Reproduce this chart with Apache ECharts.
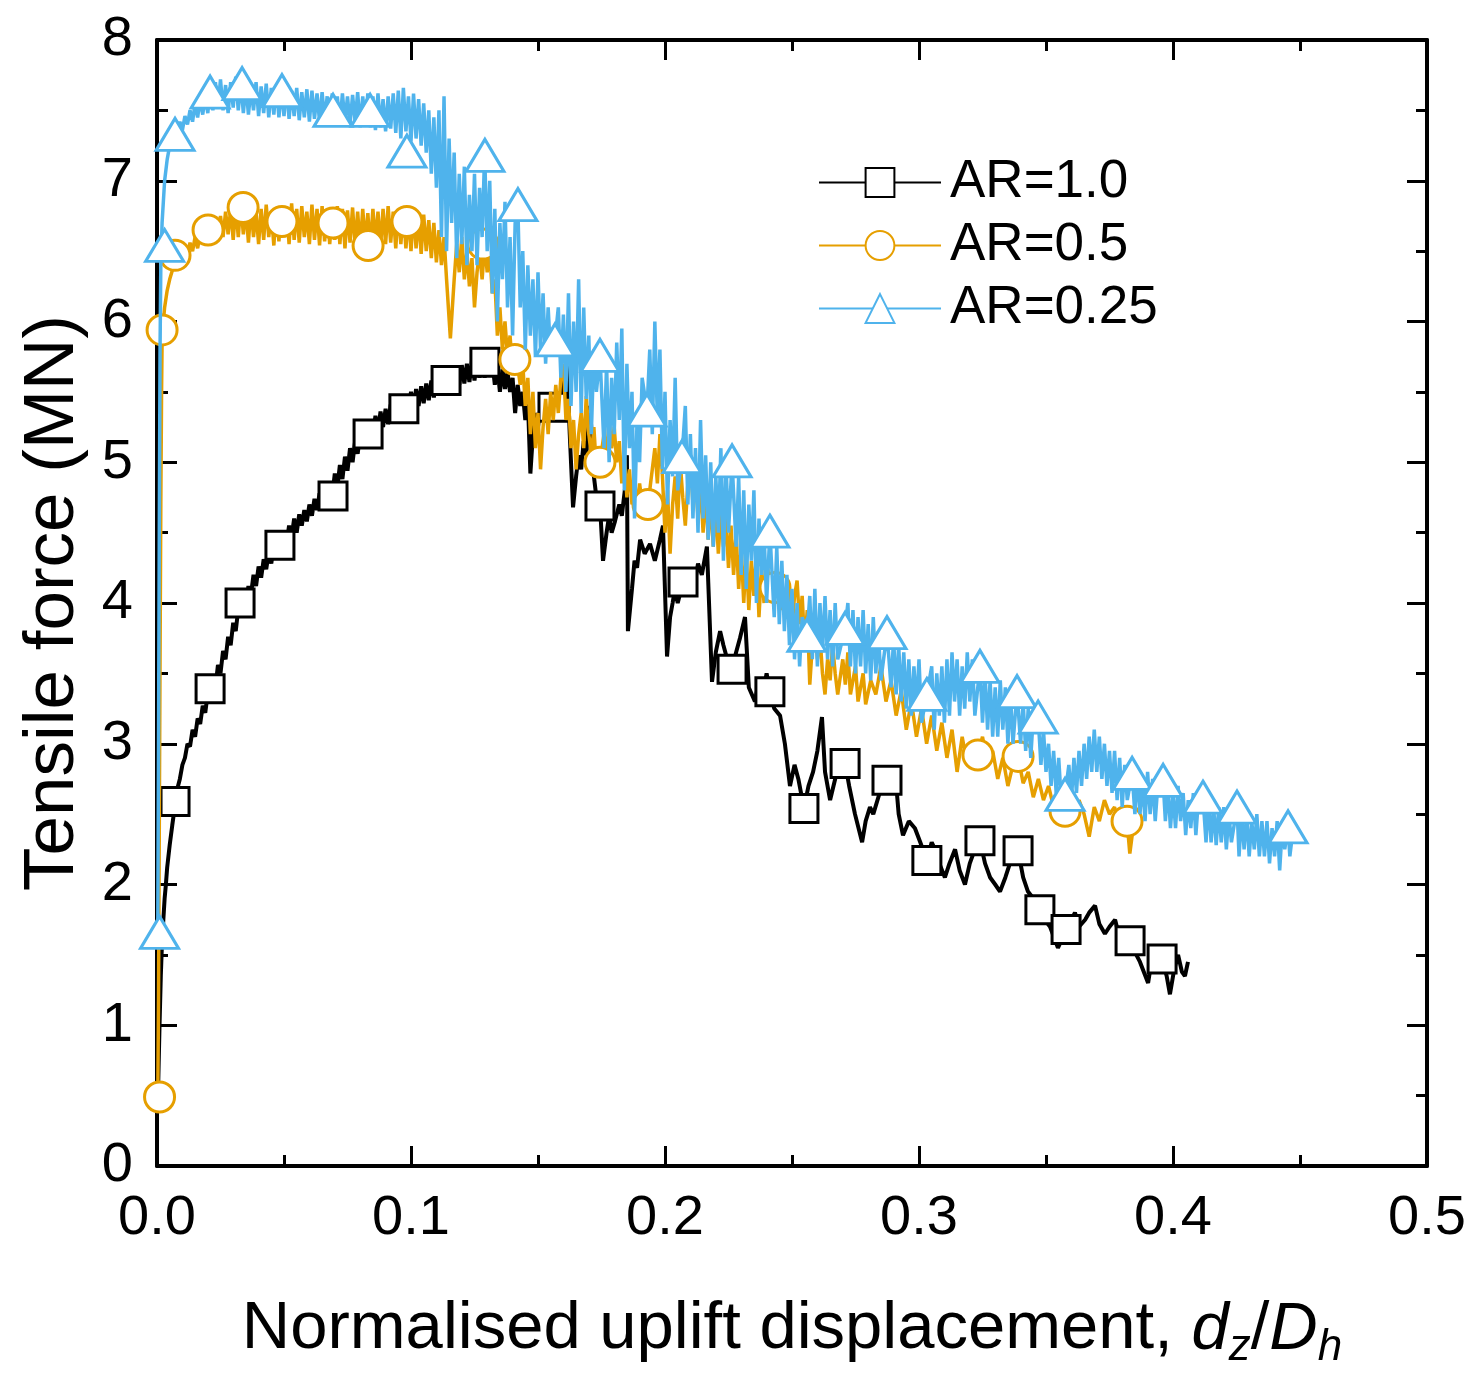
<!DOCTYPE html>
<html><head><meta charset="utf-8">
<script src="https://cdn.jsdelivr.net/npm/echarts@6/dist/echarts.min.js"></script>
<style>html,body{margin:0;padding:0;background:#fff}#c{width:1476px;height:1375px}</style>
</head><body><div id="c"></div>
<script>
const seriesNames = ['AR=1.0', 'AR=0.5', 'AR=0.25'];
const xTickLabels = ['0.0', '0.1', '0.2', '0.3', '0.4', '0.5'];
const yTickLabels = ['0', '1', '2', '3', '4', '5', '6', '7', '8'];

// AR=1.0 measured curve (dz/Dh, MN)
const ar10Line = [[0.0005,0.6],[0.001,1.0],[0.0015,1.35],[0.002,1.6],[0.0025,1.75],[0.003,1.9],[0.0035,2.0],[0.004,2.12],[0.005,2.28],[0.006,2.42],[0.007,2.55],[0.008,2.68],[0.009,2.75],[0.010,2.85],[0.011,2.9],[0.012,3.0],[0.013,2.98],[0.014,3.1],[0.015,3.05],[0.016,3.18],[0.017,3.14],[0.018,3.27],[0.019,3.22],[0.020,3.36],[0.021,3.3],[0.022,3.46],[0.023,3.4],[0.024,3.56],[0.025,3.5],[0.026,3.66],[0.027,3.6],[0.028,3.76],[0.029,3.7],[0.030,3.86],[0.031,3.8],[0.032,3.96],[0.033,3.92],[0.034,4.05],[0.035,3.98],[0.036,4.12],[0.037,4.06],[0.038,4.2],[0.039,4.12],[0.040,4.26],[0.041,4.18],[0.042,4.31],[0.043,4.24],[0.044,4.36],[0.045,4.28],[0.046,4.41],[0.047,4.33],[0.048,4.46],[0.049,4.38],[0.050,4.5],[0.051,4.42],[0.052,4.55],[0.053,4.47],[0.054,4.6],[0.055,4.5],[0.056,4.63],[0.057,4.55],[0.058,4.66],[0.059,4.58],[0.060,4.7],[0.061,4.62],[0.062,4.74],[0.063,4.66],[0.064,4.78],[0.065,4.69],[0.066,4.81],[0.067,4.72],[0.068,4.86],[0.069,4.76],[0.070,4.92],[0.071,4.82],[0.072,4.98],[0.073,4.88],[0.074,5.04],[0.075,4.94],[0.076,5.1],[0.077,5.0],[0.078,5.15],[0.079,5.06],[0.080,5.2],[0.081,5.1],[0.082,5.25],[0.083,5.15],[0.084,5.29],[0.085,5.19],[0.086,5.33],[0.087,5.22],[0.088,5.36],[0.089,5.25],[0.090,5.38],[0.091,5.27],[0.092,5.41],[0.093,5.3],[0.094,5.44],[0.095,5.32],[0.096,5.46],[0.097,5.34],[0.098,5.48],[0.099,5.36],[0.100,5.5],[0.101,5.38],[0.102,5.52],[0.103,5.4],[0.104,5.54],[0.105,5.42],[0.106,5.56],[0.107,5.44],[0.108,5.58],[0.109,5.46],[0.110,5.6],[0.111,5.48],[0.112,5.62],[0.113,5.5],[0.114,5.64],[0.115,5.52],[0.116,5.66],[0.117,5.53],[0.118,5.67],[0.119,5.55],[0.120,5.69],[0.121,5.56],[0.122,5.7],[0.123,5.57],[0.124,5.72],[0.125,5.58],[0.126,5.73],[0.127,5.6],[0.128,5.74],[0.129,5.6],[0.130,5.75],[0.131,5.62],[0.132,5.72],[0.133,5.55],[0.134,5.68],[0.135,5.5],
[0.136,5.66],[0.137,5.52],[0.138,5.64],[0.139,5.5],[0.140,5.6],[0.141,5.35],[0.142,5.55],[0.143,5.4],[0.144,5.5],[0.145,5.3],[0.146,5.45],[0.147,4.92],[0.148,5.2],[0.149,5.35],[0.150,5.25],[0.151,5.4],[0.152,5.3],[0.1535,5.45],[0.155,5.32],[0.156,5.42],[0.157,5.3],[0.158,5.48],[0.159,5.4],[0.160,5.58],[0.1614,5.72],[0.1625,5.2],[0.1638,4.68],[0.165,4.9],[0.166,5.05],[0.167,4.95],[0.168,5.15],[0.169,5.05],[0.1705,5.4],[0.172,4.9],[0.173,4.75],[0.1744,4.7],[0.1756,4.3],[0.177,4.5],[0.178,4.62],[0.179,4.5],[0.1803,4.58],[0.182,4.7],[0.183,4.62],[0.1845,4.85],[0.185,5.05],[0.1854,3.8],[0.187,4.1],[0.188,4.3],[0.189,4.25],[0.1902,4.45],[0.192,4.35],[0.1941,4.42],[0.196,4.3],[0.198,4.45],[0.1992,4.55],[0.2008,3.62],[0.202,3.9],[0.203,4.0],[0.2039,4.1],[0.205,4.0],[0.2071,4.15],[0.209,4.05],[0.2105,4.2],[0.2118,4.15],[0.213,4.28],[0.2145,4.2],[0.2165,4.4],[0.2185,3.44],[0.22,3.65],[0.2217,3.8],[0.223,3.7],[0.2245,3.6],[0.2264,3.53],[0.228,3.65],[0.2295,3.75],[0.2315,3.9],[0.233,3.4],[0.2354,3.3],[0.237,3.45],[0.2385,3.35],[0.24,3.5],[0.2413,3.37],[0.243,3.25],[0.2453,3.2],[0.2472,3.0],[0.2492,2.7],[0.251,2.85],[0.2525,2.75],[0.2547,2.54],[0.2565,2.7],[0.2583,2.8],[0.26,2.95],[0.2618,3.19],[0.263,2.8],[0.265,2.6],[0.267,2.75],[0.2685,2.85],[0.2709,2.86],[0.2725,2.7],[0.2748,2.5],[0.2776,2.3],[0.279,2.45],[0.2807,2.55],[0.282,2.5],[0.2845,2.65],[0.2874,2.74],[0.289,2.65],[0.2906,2.8],[0.292,2.5],[0.2937,2.35],[0.296,2.45],[0.2984,2.4],[0.3005,2.3],[0.3031,2.17],[0.305,2.3],[0.3063,2.25],[0.308,2.15],[0.3102,2.05],[0.312,2.15],[0.3142,2.25],[0.316,2.1],[0.3181,2.0],[0.32,2.15],[0.322,2.25],[0.324,2.31],[0.326,2.15],[0.328,2.05],[0.33,2.0],[0.3319,1.95],[0.334,2.05],[0.3358,2.15],[0.339,2.24],[0.341,2.05],[0.3429,1.95],[0.345,1.9],[0.3476,1.82],[0.3495,1.75],[0.3516,1.7],[0.3547,1.55],[0.3565,1.62],[0.3579,1.68],[0.36,1.75],[0.3614,1.8],[0.363,1.7],[0.3654,1.75],[0.367,1.8],[0.3693,1.85],[0.371,1.72],[0.3732,1.65],[0.375,1.7],[0.3772,1.75],[0.379,1.62],[0.381,1.58],[0.3831,1.6],[0.385,1.52],[0.387,1.45],[0.3902,1.3],[0.3915,1.45],[0.3929,1.55],[0.3957,1.47],[0.3975,1.35],[0.3988,1.22],[0.4005,1.4],[0.402,1.5],[0.4035,1.38],[0.4047,1.35],[0.4059,1.45]];
const ar10Marks = [[0.0071,2.59],[0.0209,3.39],[0.0327,4.00],[0.0484,4.41],[0.0693,4.76],[0.0831,5.20],[0.0972,5.38],[0.1138,5.58],[0.1291,5.71],[0.1559,5.39],[0.1744,4.69],[0.2071,4.15],[0.2264,3.53],[0.2413,3.37],[0.2547,2.54],[0.2709,2.86],[0.2874,2.74],[0.3031,2.17],[0.3240,2.31],[0.3390,2.24],[0.3476,1.82],[0.3579,1.68],[0.3831,1.60],[0.3957,1.47]];

// AR=0.5 measured curve
const ar05Line = [[0.0003,0.45],[0.0006,1.2],[0.0009,2.4],[0.0012,3.6],[0.0015,4.7],[0.0018,5.5],[0.002,5.85],[0.0025,6.0],[0.003,6.1],[0.004,6.22],[0.005,6.3],[0.006,6.36],[0.007,6.42],[0.008,6.38],[0.009,6.48],[0.010,6.44],[0.011,6.52],[0.012,6.47],[0.013,6.56],[0.014,6.5],[0.015,6.6],[0.016,6.52],[0.017,6.62],[0.018,6.55],[0.019,6.66],[0.020,6.57],
[0.021,6.7],[0.022,6.58],[0.023,6.72],[0.024,6.6],[0.025,6.75],[0.026,6.6],[0.027,6.78],[0.028,6.62],[0.029,6.8],[0.030,6.58],[0.031,6.82],[0.032,6.6],[0.033,6.84],[0.034,6.62],[0.035,6.8],[0.036,6.56],[0.037,6.82],[0.038,6.6],[0.039,6.78],[0.040,6.55],[0.041,6.8],[0.042,6.58],[0.043,6.83],[0.044,6.6],[0.045,6.78],[0.046,6.54],[0.047,6.8],[0.048,6.57],[0.049,6.82],[0.050,6.6],[0.051,6.79],[0.052,6.55],[0.053,6.84],[0.054,6.58],[0.055,6.8],[0.056,6.56],[0.057,6.82],[0.058,6.6],[0.059,6.78],[0.060,6.55],[0.061,6.83],[0.062,6.58],[0.063,6.8],[0.064,6.54],[0.065,6.82],[0.066,6.57],[0.067,6.8],[0.068,6.55],[0.069,6.78],[0.070,6.58],[0.071,6.82],[0.072,6.55],[0.073,6.8],[0.074,6.52],[0.075,6.79],[0.076,6.56],[0.077,6.81],[0.078,6.54],[0.079,6.78],[0.080,6.52],[0.081,6.8],[0.082,6.55],[0.083,6.77],[0.084,6.52],[0.085,6.8],[0.086,6.56],[0.087,6.78],[0.088,6.53],[0.089,6.8],[0.090,6.55],[0.091,6.82],[0.092,6.56],[0.093,6.78],[0.094,6.52],[0.095,6.8],[0.096,6.55],[0.097,6.78],[0.098,6.52],[0.099,6.76],[0.100,6.5],[0.101,6.78],[0.102,6.52],[0.103,6.75],[0.104,6.48],[0.105,6.76],[0.106,6.5],[0.107,6.72],[0.108,6.45],[0.109,6.7],[0.110,6.42],
[0.111,6.65],[0.112,6.4],[0.113,6.6],[0.114,6.3],[0.1155,5.88],[0.117,6.3],[0.118,6.55],[0.119,6.35],[0.120,6.6],[0.121,6.3],[0.122,6.5],[0.123,6.25],[0.124,6.45],[0.125,6.1],[0.126,6.35],[0.127,6.5],[0.128,6.3],[0.129,6.55],[0.130,6.35],[0.131,6.5],[0.132,6.2],[0.133,6.3],[0.134,5.9],[0.135,6.1],[0.136,5.8],[0.137,6.0],[0.138,5.75],[0.139,5.9],[0.140,5.65],[0.1415,5.75],[0.143,5.55],[0.144,5.7],[0.145,5.4],[0.146,5.6],[0.147,5.2],[0.148,5.5],[0.149,5.1],[0.150,5.35],[0.151,4.95],[0.152,5.25],[0.153,5.45],[0.154,5.2],[0.155,5.5],[0.156,5.3],[0.157,5.55],[0.158,5.35],[0.159,5.6],[0.160,5.7],[0.161,5.3],[0.162,5.45],[0.163,5.1],[0.164,5.3],[0.165,4.95],[0.166,5.2],[0.167,5.35],[0.168,5.1],[0.169,5.47],[0.170,5.2],[0.171,5.05],[0.172,5.25],[0.173,4.95],[0.1744,5.0],[0.176,5.2],[0.177,5.05],[0.178,5.3],[0.179,5.1],[0.180,5.25],[0.181,5.0],[0.182,5.15],[0.183,4.85],[0.184,5.05],[0.185,4.75],[0.186,4.95],[0.187,4.7],[0.188,4.9],[0.189,4.65],[0.190,4.85],[0.191,4.7],[0.1933,4.7],[0.195,4.95],[0.196,5.1],[0.197,4.85],[0.198,5.2],[0.199,4.9],[0.200,4.5],[0.201,4.8],[0.202,4.35],[0.203,4.7],[0.204,4.9],[0.205,4.6],[0.206,5.0],[0.207,4.75],[0.208,4.55],[0.209,4.85],[0.210,5.05],[0.211,4.7],[0.212,4.95],[0.213,4.6],[0.214,4.85],[0.215,4.5],[0.216,4.8],[0.217,4.45],[0.218,4.75],[0.219,4.4],[0.220,4.7],[0.221,4.35],[0.222,4.65],[0.223,4.4],[0.224,4.6],[0.225,4.25],[0.226,4.55],[0.227,4.2],[0.228,4.5],[0.229,4.1],[0.230,4.4],[0.231,4.0],[0.232,4.35],[0.233,3.95],[0.234,4.3],[0.235,4.05],[0.236,4.35],[0.237,3.9],[0.238,4.25],[0.239,4.0],[0.240,4.3],[0.2415,4.1],[0.2433,4.11],[0.245,4.2],[0.246,3.95],[0.247,4.15],[0.248,3.9],[0.249,4.1],[0.250,3.82],[0.251,4.05],[0.252,4.16],[0.253,3.85],[0.254,4.05],[0.255,3.7],[0.256,3.95],[0.257,3.42],[0.258,3.7],[0.259,3.85],[0.260,3.6],[0.261,3.77],[0.262,3.5],[0.263,3.35],[0.264,3.6],[0.265,3.45],[0.266,3.7],[0.267,3.5],[0.268,3.35],[0.270,3.6],[0.271,3.42],[0.272,3.65],[0.273,3.35],[0.275,3.55],[0.276,3.3],[0.278,3.5],[0.279,3.28],[0.281,3.45],[0.283,3.35],[0.285,3.55],[0.287,3.3],[0.289,3.45],[0.291,3.2],[0.293,3.38],[0.295,3.1],[0.297,3.3],[0.299,3.05],[0.301,3.25],[0.303,3.0],[0.305,3.2],[0.307,2.95],[0.309,3.15],[0.311,2.9],[0.313,3.1],[0.315,2.8],[0.317,3.05],[0.319,2.85],[0.321,3.0],[0.3232,2.92],[0.325,3.05],[0.327,2.85],[0.329,2.95],[0.331,2.75],[0.333,2.9],[0.335,2.7],[0.337,2.85],[0.339,2.91],[0.341,2.72],[0.343,2.8],[0.345,2.62],[0.347,2.75],[0.349,2.6],[0.351,2.7],[0.353,2.55],[0.355,2.65],[0.3575,2.52],[0.359,2.6],[0.361,2.45],[0.363,2.6],[0.365,2.5],[0.367,2.34],[0.369,2.55],[0.371,2.45],[0.373,2.6],[0.375,2.5],[0.377,2.55],[0.379,2.4],[0.381,2.5],[0.3819,2.45],[0.383,2.22],[0.385,2.5],[0.387,2.55],[0.389,2.6]];
const ar05Marks = [[0.001,0.49],[0.002,5.94],[0.0071,6.47],[0.0201,6.65],[0.0339,6.81],[0.0492,6.71],[0.0693,6.70],[0.0831,6.54],[0.0984,6.71],[0.1283,6.55],[0.1409,5.73],[0.1744,5.00],[0.1933,4.70],[0.2433,4.11],[0.3232,2.92],[0.3390,2.91],[0.3575,2.52],[0.3819,2.45]];

// AR=0.25 measured curve
const ar025Line = [[0.0003,1.6],[0.0006,3.0],[0.0009,4.5],[0.0012,5.8],[0.0015,6.4],[0.002,6.7],[0.003,7.0],[0.004,7.15],[0.005,7.25],[0.006,7.3],[0.007,7.35],[0.008,7.3],[0.009,7.42],[0.010,7.36],[0.011,7.46],[0.012,7.4],[0.013,7.5],[0.014,7.42],[0.015,7.55],[0.016,7.45],[0.017,7.58],[0.018,7.47],[0.019,7.6],[0.020,7.48],
[0.021,7.68],[0.022,7.5],[0.023,7.7],[0.024,7.52],[0.025,7.72],[0.026,7.5],[0.027,7.68],[0.028,7.48],[0.029,7.7],[0.030,7.52],[0.031,7.74],[0.032,7.5],[0.033,7.7],[0.034,7.48],[0.035,7.68],[0.036,7.47],[0.037,7.66],[0.038,7.5],[0.039,7.7],[0.040,7.46],[0.041,7.67],[0.042,7.48],[0.043,7.69],[0.044,7.45],[0.045,7.66],[0.046,7.47],[0.047,7.68],[0.048,7.45],[0.049,7.65],[0.050,7.46],[0.051,7.67],[0.052,7.44],[0.053,7.64],[0.054,7.46],[0.055,7.66],[0.056,7.43],[0.057,7.63],[0.058,7.45],[0.059,7.65],[0.060,7.42],[0.061,7.64],[0.062,7.44],[0.063,7.62],[0.064,7.42],[0.065,7.63],[0.066,7.43],[0.067,7.6],[0.068,7.41],[0.069,7.62],[0.070,7.42],[0.071,7.6],[0.072,7.4],[0.073,7.62],[0.074,7.42],[0.075,7.6],[0.076,7.4],[0.077,7.61],[0.078,7.42],[0.079,7.63],[0.080,7.38],[0.081,7.6],[0.082,7.4],[0.083,7.62],[0.084,7.38],[0.085,7.6],[0.086,7.36],[0.087,7.62],[0.088,7.38],[0.089,7.58],[0.090,7.35],[0.091,7.6],[0.092,7.37],[0.093,7.62],[0.094,7.34],[0.095,7.64],[0.096,7.3],[0.097,7.66],[0.098,7.35],[0.099,7.6],[0.100,7.28],[0.101,7.62],[0.102,7.3],[0.103,7.58],[0.104,7.25],[0.105,7.55],[0.106,7.2],[0.107,7.5],[0.108,7.05],[0.109,7.45],[0.110,6.95],[0.111,7.5],[0.112,6.6],[0.113,7.6],[0.114,6.5],[0.115,7.3],[0.116,6.7],[0.117,7.2],[0.118,6.45],[0.119,7.05],[0.120,6.55],[0.121,7.1],[0.122,6.4],[0.123,6.9],[0.124,6.5],[0.125,7.05],[0.126,6.4],[0.127,6.95],[0.128,6.6],[0.129,7.2],[0.130,6.5],[0.131,7.0],[0.132,6.2],[0.133,6.8],[0.134,6.0],[0.135,6.7],[0.136,6.3],[0.137,6.85],[0.138,6.1],[0.139,6.6],[0.140,5.9],[0.141,6.7],[0.1421,6.8],[0.143,6.1],[0.144,6.5],[0.145,5.8],[0.146,6.4],[0.147,5.9],[0.148,6.3],[0.149,5.75],[0.150,6.35],[0.151,5.8],[0.152,6.2],[0.153,5.7],[0.154,6.1],[0.155,5.75],[0.1567,5.87],[0.158,6.1],[0.159,5.6],[0.160,6.05],[0.161,5.5],[0.162,6.2],[0.163,5.4],[0.164,6.0],[0.165,5.5],[0.166,6.3],[0.167,5.35],[0.168,6.1],[0.169,5.45],[0.170,5.9],[0.171,5.2],[0.172,5.8],[0.173,5.5],[0.1744,5.76],[0.176,5.1],[0.177,5.7],[0.178,5.0],[0.179,5.6],[0.180,5.2],[0.181,5.85],[0.182,5.3],[0.183,5.95],[0.184,4.8],[0.185,5.7],[0.186,5.1],[0.187,5.5],[0.188,4.6],[0.189,5.3],[0.190,5.0],[0.191,5.6],[0.1929,5.37],[0.194,5.8],[0.195,5.2],[0.196,6.0],[0.197,5.3],[0.198,5.8],[0.199,4.95],[0.200,5.5],[0.201,4.7],[0.202,5.3],[0.203,4.9],[0.204,5.6],[0.205,4.8],[0.2067,5.04],[0.208,5.4],[0.209,4.7],[0.210,5.2],[0.211,4.6],[0.212,5.1],[0.213,4.5],[0.214,5.3],[0.215,4.6],[0.216,5.05],[0.217,4.45],[0.218,5.0],[0.219,4.4],[0.220,4.9],[0.221,4.5],[0.222,5.1],[0.223,4.3],[0.224,5.0],[0.225,4.5],[0.2264,5.01],[0.228,4.4],[0.229,4.9],[0.230,4.2],[0.231,4.8],[0.232,4.1],[0.233,4.7],[0.234,4.3],[0.235,4.8],[0.236,4.0],[0.237,4.6],[0.238,4.2],[0.239,4.5],[0.240,4.0],[0.2413,4.51],[0.243,3.9],[0.244,4.4],[0.245,3.85],[0.246,4.3],[0.247,3.8],[0.248,4.2],[0.249,3.7],[0.250,4.1],[0.251,3.6],[0.252,4.0],[0.253,3.55],[0.254,3.9],[0.2559,3.77],[0.257,4.05],[0.258,3.6],[0.259,4.1],[0.260,3.55],[0.261,4.0],[0.262,3.65],[0.263,4.05],[0.264,3.6],[0.265,3.95],[0.266,3.55],[0.267,4.0],[0.268,3.6],[0.2709,3.82],[0.272,4.0],[0.273,3.55],[0.274,3.95],[0.275,3.5],[0.276,3.9],[0.277,3.55],[0.278,3.95],[0.279,3.5],[0.280,3.85],[0.281,3.45],[0.282,3.9],[0.283,3.5],[0.284,3.8],[0.285,3.45],[0.2874,3.79],[0.289,3.4],[0.290,3.75],[0.291,3.35],[0.292,3.7],[0.293,3.3],[0.294,3.65],[0.295,3.25],[0.296,3.6],[0.297,3.2],[0.298,3.55],[0.299,3.25],[0.300,3.6],[0.301,3.15],[0.3031,3.35],[0.305,3.55],[0.306,3.1],[0.307,3.5],[0.308,3.2],[0.309,3.55],[0.310,3.15],[0.311,3.6],[0.312,3.2],[0.313,3.65],[0.314,3.3],[0.315,3.6],[0.316,3.2],[0.317,3.55],[0.318,3.25],[0.319,3.65],[0.320,3.3],[0.321,3.6],[0.322,3.2],[0.324,3.55],[0.325,3.15],[0.326,3.5],[0.327,3.1],[0.328,3.45],[0.329,3.05],[0.330,3.4],[0.331,3.05],[0.332,3.45],[0.333,3.1],[0.334,3.4],[0.335,3.0],[0.336,3.35],[0.337,3.0],[0.3386,3.37],[0.340,3.0],[0.341,3.3],[0.342,2.95],[0.343,3.25],[0.344,2.9],[0.345,3.2],[0.3469,3.19],[0.348,2.85],[0.349,3.1],[0.350,2.8],[0.351,3.0],[0.352,2.7],[0.353,2.95],[0.354,2.65],[0.355,2.9],[0.356,2.6],[0.3575,2.64],[0.359,2.85],[0.360,2.6],[0.361,2.9],[0.362,2.65],[0.363,2.95],[0.364,2.7],[0.365,3.0],[0.366,2.75],[0.367,3.05],[0.368,2.8],[0.369,3.1],[0.370,2.8],[0.371,3.05],[0.372,2.75],[0.373,3.0],[0.374,2.7],[0.375,2.95],[0.376,2.65],[0.377,2.95],[0.378,2.6],[0.379,2.9],[0.380,2.55],[0.381,2.85],[0.382,2.6],[0.3839,2.79],[0.385,2.5],[0.386,2.8],[0.387,2.5],[0.388,2.75],[0.389,2.45],[0.390,2.8],[0.391,2.5],[0.392,2.75],[0.393,2.45],[0.394,2.7],[0.3961,2.74],[0.397,2.45],[0.398,2.7],[0.399,2.4],[0.400,2.65],[0.401,2.4],[0.402,2.7],[0.403,2.45],[0.404,2.65],[0.405,2.35],[0.406,2.6],[0.407,2.4],[0.408,2.65],[0.409,2.35],[0.410,2.6],[0.4118,2.62],[0.413,2.3],[0.414,2.6],[0.415,2.3],[0.416,2.55],[0.417,2.28],[0.418,2.55],[0.419,2.3],[0.420,2.55],[0.421,2.25],[0.422,2.5],[0.423,2.3],[0.4252,2.55],[0.426,2.2],[0.427,2.5],[0.428,2.25],[0.429,2.5],[0.430,2.2],[0.431,2.45],[0.432,2.25],[0.433,2.5],[0.434,2.2],[0.435,2.45],[0.436,2.2],[0.437,2.45],[0.438,2.15],[0.439,2.4],[0.440,2.2],[0.441,2.45],[0.442,2.1],[0.443,2.4],[0.444,2.25],[0.4453,2.41],[0.446,2.2],[0.447,2.35]];
const ar025Marks = [[0.001,1.66],[0.003,6.54],[0.0071,7.33],[0.0209,7.63],[0.0335,7.69],[0.0492,7.64],[0.0693,7.50],[0.0839,7.50],[0.0984,7.21],[0.1291,7.18],[0.1421,6.83],[0.1567,5.87],[0.1744,5.76],[0.1929,5.37],[0.2067,5.04],[0.2264,5.01],[0.2413,4.51],[0.2559,3.77],[0.2709,3.82],[0.2874,3.79],[0.3031,3.35],[0.3240,3.55],[0.3386,3.37],[0.3469,3.19],[0.3575,2.64],[0.3839,2.79],[0.3961,2.74],[0.4118,2.62],[0.4252,2.55],[0.4453,2.41]];

const colors = ['#000000', '#E69F00', '#4FB3EC'];
const FONT = 'Liberation Sans, Arial, Helvetica, sans-serif';

const chart = echarts.init(document.getElementById('c'), null, {renderer: 'canvas'});

function axisCommon(extra) {
  return Object.assign({
    axisLine: {show: true, onZero: false, lineStyle: {color: '#000', width: 4}},
    axisTick: {show: true, inside: true, length: 20, lineStyle: {color: '#000', width: 3}},
    minorTick: {show: true, splitNumber: 2, length: 11, lineStyle: {color: '#000', width: 3}},
    splitLine: {show: false},
    minorSplitLine: {show: false}
  }, extra);
}

const xLabelFmt = v => xTickLabels[Math.round(v * 10)];
const yLabelFmt = v => yTickLabels[Math.round(v)];

function lineSeries(name, data, color, symbol, width, z) {
  return {
    name: name, type: 'line', data: data, z: z,
    symbol: symbol, showSymbol: false, symbolSize: 26,
    lineStyle: {color: color, width: width},
    itemStyle: {color: color},
    emphasis: {disabled: true},
    animation: false
  };
}
function markSeries(name, data, color, symbol, size, z) {
  return {
    name: name, type: 'scatter', data: data, z: z,
    symbol: symbol, symbolSize: size,
    itemStyle: {color: '#ffffff', borderColor: color, borderWidth: 3, opacity: 1},
    emphasis: {disabled: true},
    clip: false,
    animation: false
  };
}

chart.setOption({
  backgroundColor: '#ffffff',
  animation: false,
  textStyle: {fontFamily: FONT},
  grid: {left: 157, right: 49, top: 40, bottom: 200, containLabel: false},
  legend: {
    data: seriesNames,
    orient: 'vertical',
    left: 818, top: 156,
    itemWidth: 122, itemHeight: 36, itemGap: 10,
    padding: 0,
    textStyle: {fontSize: 53, color: '#000', fontFamily: FONT, padding: [0, 0, 0, 4]},
    selectedMode: false
  },
  xAxis: [
    axisCommon({
      type: 'value', position: 'bottom', min: 0, max: 0.5, interval: 0.1,
      axisLabel: {fontSize: 56, color: '#000', margin: 25, fontFamily: FONT, formatter: xLabelFmt},
      name: '{a|Normalised uplift displacement, }{i|d}{s|z}{a|/}{i|D}{s|h}',
      nameLocation: 'middle', nameGap: 124,
      nameTextStyle: {
        color: '#000', fontSize: 67, fontFamily: FONT,
        rich: {
          a: {fontSize: 67, color: '#000', fontFamily: FONT},
          i: {fontSize: 67, color: '#000', fontStyle: 'italic', fontFamily: FONT},
          s: {fontSize: 44, color: '#000', fontStyle: 'italic', fontFamily: FONT, padding: [36, 0, 0, 0]}
        }
      }
    }),
    axisCommon({
      type: 'value', position: 'top', min: 0, max: 0.5, interval: 0.1,
      axisLabel: {show: false}
    })
  ],
  yAxis: [
    axisCommon({
      type: 'value', position: 'left', min: 0, max: 8, interval: 1,
      axisLabel: {fontSize: 56, color: '#000', margin: 24, fontFamily: FONT, formatter: yLabelFmt},
      name: 'Tensile force (MN)',
      nameLocation: 'middle', nameGap: 68, nameRotate: 90,
      nameTextStyle: {color: '#000', fontSize: 71, fontFamily: FONT}
    }),
    axisCommon({
      type: 'value', position: 'right', min: 0, max: 8, interval: 1,
      axisLabel: {show: false}
    })
  ],
  series: [
    lineSeries(seriesNames[0], ar10Line, colors[0], 'emptyRect', 4, 2),
    markSeries('m1', ar10Marks, colors[0], 'rect', 28, 3),
    lineSeries(seriesNames[1], ar05Line, colors[1], 'emptyCircle', 3.5, 4),
    markSeries('m2', ar05Marks, colors[1], 'circle', 30, 5),
    lineSeries(seriesNames[2], ar025Line, colors[2], 'emptyTriangle', 3.5, 6),
    markSeries('m3', ar025Marks, colors[2], 'triangle', [38, 32], 7)
  ]
});
</script>
</body></html>
